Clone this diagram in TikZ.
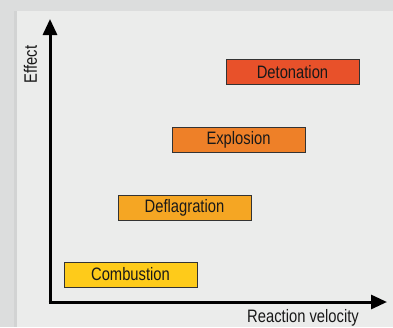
\documentclass[tikz,border=0pt]{standalone}
\usepackage{fontspec}
\setmainfont[FakeStretch=0.82]{Liberation Sans}
\usetikzlibrary{arrows.meta, positioning}
\definecolor{outergray}{HTML}{DCDDDD}
\definecolor{panelgray}{HTML}{EBECEB}
\definecolor{shadegray}{HTML}{D2D3D3}
\definecolor{combcol}{HTML}{FECB1A}
\definecolor{deflcol}{HTML}{F5A623}
\definecolor{explcol}{HTML}{EE8028}
\definecolor{detocol}{HTML}{E8512A}

\begin{document}
\begin{tikzpicture}[x=1pt,y=-1pt,
    regime/.style={draw=black!80, line width=0.8pt, minimum width=133pt, minimum height=25pt,
                   inner sep=0pt, text=black!90, font=\fontsize{18}{20}\selectfont},
    axis/.style={line width=3pt, -{Triangle[length=16pt,width=14pt]}},
    axislabel/.style={font=\fontsize{18}{20}\selectfont, text=black!90, inner sep=0pt}]
      % frame
      \fill[outergray] (0,0) rectangle (393,327);
      \fill[shadegray] (14,11) rectangle (17,327);
      \fill[panelgray] (17,11) rectangle (393,327);
      \useasboundingbox (0,0) rectangle (393,327);

      \coordinate (origin) at (50,302);
      \coordinate (ytip) at (50,19);
      \coordinate (xtip) at (387,302);

      \node[regime, fill=combcol] (comb) at (130.5,274.5) {Combustion};
      \node[regime, fill=deflcol] (defl) at (184.5,207.5) {Deflagration};
      \node[regime, fill=explcol] (expl) at (238.5,139.5) {Explosion};
      \node[regime, fill=detocol] (deto) at (292.5,72) {Detonation};

      \draw[axis] (origin) -- (ytip);
      \draw[axis] ([xshift=-1.5pt]origin) -- (xtip);

      \node[axislabel, rotate=90] (effect) at (30.5,64.5) {Effect};
      \node[axislabel] (velocity) at (303,318) {Reaction velocity};
\end{tikzpicture}
\end{document}
